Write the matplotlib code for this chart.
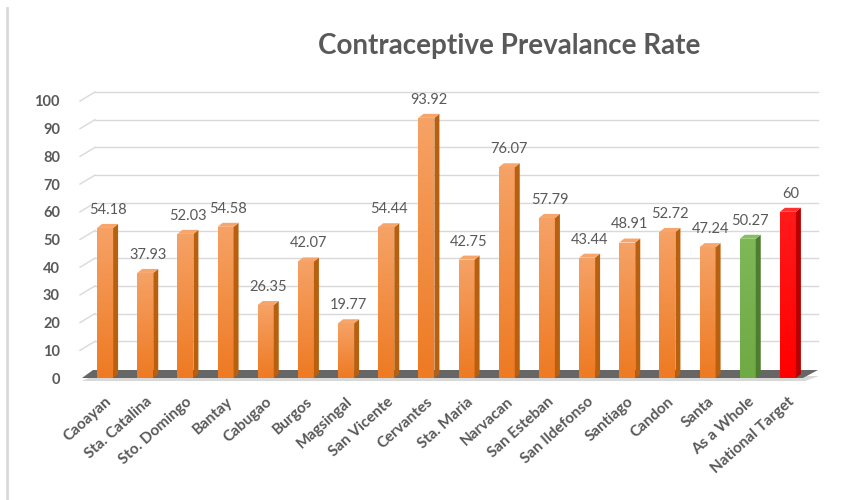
import matplotlib
matplotlib.use("Agg")
import matplotlib.pyplot as plt
import numpy as np
from matplotlib.patches import Polygon, Rectangle
from matplotlib.colors import LinearSegmentedColormap
from matplotlib.lines import Line2D

plt.rcParams['font.family'] = ['Lato', 'DejaVu Sans']

categories = ["Caoayan", "Sta. Catalina", "Sto. Domingo", "Bantay", "Cabugao",
              "Burgos", "Magsingal", "San Vicente", "Cervantes", "Sta. Maria",
              "Narvacan", "San Esteban", "San Ildefonso", "Santiago", "Candon",
              "Santa", "As a Whole", "National Target"]
values = [54.18, 37.93, 52.03, 54.58, 26.35, 42.07, 19.77, 54.44, 93.92, 42.75,
          76.07, 57.79, 43.44, 48.91, 52.72, 47.24, 50.27, 60]
value_labels = ["54.18", "37.93", "52.03", "54.58", "26.35", "42.07", "19.77", "54.44",
                "93.92", "42.75", "76.07", "57.79", "43.44", "48.91", "52.72", "47.24",
                "50.27", "60"]
yticks = [0, 10, 20, 30, 40, 50, 60, 70, 80, 90, 100]

# colour scheme: (top light, bottom, side, top face)
orange = ("#F6A266", "#EE7A22", "#B9600F", "#F7A56B")
green = ("#7FB857", "#6FAA45", "#4E7D31", "#86BF5E")
red = ("#FF1A1A", "#FF0000", "#B80000", "#FF3030")
bar_colors = [orange] * 16 + [green, red]

W, H = 855, 500
fig = plt.figure(figsize=(W / 100, H / 100), dpi=100)
fig.patch.set_facecolor("white")

ax_left, ax_right = 85, 808
y0_px, y100_px = 378, 101
ax = fig.add_axes([ax_left / W, (H - y0_px) / H, (ax_right - ax_left) / W,
                   (y0_px - y100_px) / H])
n = len(categories)
ax.set_xlim(-0.5, n - 0.5)
ax.set_ylim(0, 100)
for s in ax.spines.values():
    s.set_visible(False)
ax.set_facecolor("none")

pxx = (ax_right - ax_left) / n      # pixels per x unit
pxy = (y0_px - y100_px) / 100.0     # pixels per y unit

# back-wall offsets
bdx = 10 / pxx
bdy = 9 / pxy

# gridlines with slanted stubs
for v in yticks[1:]:
    ax.add_line(Line2D([-0.5 - 5 / pxx, -0.5 + bdx], [v, v + bdy], color="#D9D9D9",
                       lw=1.0, clip_on=False, zorder=1))
    ax.add_line(Line2D([-0.5 + bdx, n - 0.5 + bdx], [v + bdy, v + bdy], color="#D9D9D9",
                       lw=1.0, clip_on=False, zorder=1))

# floor
floor_shadow = Polygon([(-0.5 - 3 / pxx, -3 / pxy), (n - 0.5 - 3 / pxx, -3 / pxy),
                        (n - 0.5 + 11 / pxx, 2 / pxy), (-0.5 + 8 / pxx, 2 / pxy)],
                       closed=True, facecolor="#BFBFBF", edgecolor="none",
                       clip_on=False, zorder=1.5, alpha=0.6)
ax.add_patch(floor_shadow)
floor = Polygon([(-0.5 - 3 / pxx, 0), (n - 0.5 - 5 / pxx, 0),
                 (n - 0.5 + bdx, 8 / pxy), (-0.5 + 8 / pxx, 8 / pxy)],
                closed=True, facecolor="#666666", edgecolor="none",
                clip_on=False, zorder=2)
ax.add_patch(floor)

# bars with pseudo-3D faces
bw = 16 / pxx
ddx = 5 / pxx
ddy = 4 / pxy
x = np.arange(n)
bars = ax.bar(x, values, width=bw, color="none", zorder=3)
for i, (b, c) in enumerate(zip(bars, bar_colors)):
    x0 = b.get_x()
    h = b.get_height()
    top_c, bot_c, side_c, topface_c = c
    cmap = LinearSegmentedColormap.from_list("g", [bot_c, top_c])
    grad = np.linspace(0, 1, 64).reshape(-1, 1)
    im = ax.imshow(grad, extent=[x0, x0 + bw, 0, h], origin="lower", cmap=cmap,
                   aspect="auto", zorder=4, interpolation="bilinear")
    rect = Rectangle((x0, 0), bw, h, transform=ax.transData, facecolor="none")
    im.set_clip_path(rect)
    side = Polygon([(x0 + bw, 0), (x0 + bw + ddx, ddy), (x0 + bw + ddx, h + ddy),
                    (x0 + bw, h)], closed=True, facecolor=side_c, edgecolor="none",
                   zorder=4)
    ax.add_patch(side)
    topf = Polygon([(x0, h), (x0 + bw, h), (x0 + bw + ddx, h + ddy),
                    (x0 + ddx, h + ddy)], closed=True, facecolor=topface_c,
                   edgecolor="none", zorder=4)
    ax.add_patch(topf)
    ax.annotate(value_labels[i], (b.get_x() + bw / 2 + ddx / 2, h),
                xytext=(0, 13), textcoords="offset points", ha="center",
                va="center", fontsize=10.5, color="#595959", zorder=5)

ax.set_xlim(-0.5, n - 0.5)
ax.set_ylim(0, 100)

ax.set_yticks(yticks)
ax.set_yticklabels([str(v) for v in yticks], fontsize=10.5, fontweight="bold",
                   color="#595959")
ax.tick_params(axis="y", length=0, pad=18)
ax.set_xticks(x)
ax.set_xticklabels(categories, rotation=42, ha="right", rotation_mode="anchor",
                   fontsize=11, fontweight="bold", color="#595959")
ax.tick_params(axis="x", length=0, pad=12)

fig.text(509 / W, 1 - 46 / H, "Contraceptive Prevalance Rate", ha="center",
         va="center", fontsize=20, fontweight="bold", color="#595959")

# left chart border
fig.add_artist(Line2D([7 / W, 7 / W], [0, 1 - 8 / H], color="#D9D9D9", lw=2,
                      transform=fig.transFigure))

fig.savefig("out.png", dpi=100, facecolor="white")
